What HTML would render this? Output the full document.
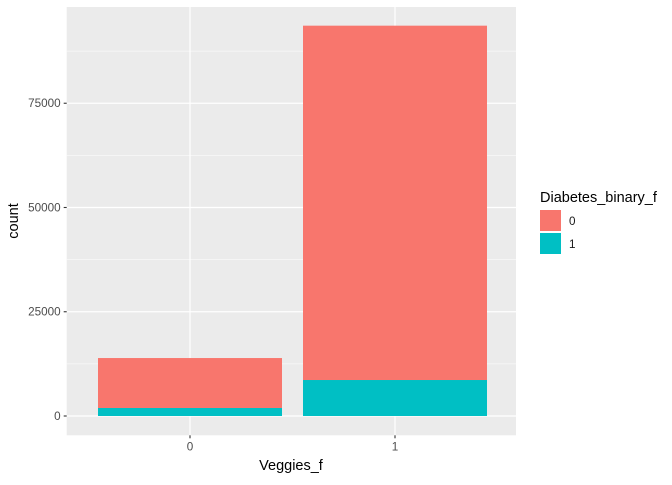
<!DOCTYPE html>
<html><head><meta charset="utf-8"><style>
body{margin:0;background:#fff;font-family:"Liberation Sans",Arial,sans-serif}
</style></head><body>
<svg width="672" height="480" id="c">
<rect x="66.7" y="7" width="449.3" height="428.3" fill="#EBEBEB"/>
<g id="grid"></g><g id="bars"></g><g id="axes"></g>
<text x="291" y="470" font-size="14.5" text-anchor="middle" fill="#000">Veggies_f</text>
<text transform="translate(18,221) rotate(-90)" font-size="14.5" text-anchor="middle" fill="#000">count</text>
<g>
<text x="540" y="202" font-size="14.5" fill="#000">Diabetes_binary_f</text>
<rect x="540" y="210" width="21" height="21" fill="#F8766D"/>
<text x="569" y="225" font-size="11.7" fill="#1a1a1a">0</text>
<rect x="540" y="233" width="21" height="21" fill="#00BFC4"/>
<text x="569" y="248" font-size="11.7" fill="#1a1a1a">1</text>
</g>
</svg>
<script>
const categories=["0","1"];
const series0=[11980,84970];
const series1=[1920,8630];
const yTicks=[0,25000,50000,75000];
const NS="http://www.w3.org/2000/svg";
const yS=v=>416-v/239.8;
const xS=i=>190+i*205;
const BW=184, PT=7, PB=435.3, PL=66.7, PR=516;
function mk(t,a,p){const e=document.createElementNS(NS,t);for(const k in a)e.setAttribute(k,a[k]);p.appendChild(e);return e;}
const gG=document.getElementById('grid'),gB=document.getElementById('bars'),gA=document.getElementById('axes');
const minors=[];
yTicks.forEach((v,i)=>{ if(i<yTicks.length-1) minors.push((v+yTicks[i+1])/2); });
minors.push(yTicks[yTicks.length-1]+12500);
minors.forEach(m=>{
 const l=mk('line',{x1:PL,x2:PR,y1:yS(m),y2:yS(m),stroke:'#fff','stroke-width':0.6},gG);
 
 
});
yTicks.forEach(v=>{
 const l=mk('line',{x1:PL,x2:PR,y1:yS(v),y2:yS(v),stroke:'#fff','stroke-width':1.2},gG);
 
 
 const t=mk('line',{x1:PL-3,x2:PL,y1:yS(v),y2:yS(v),stroke:'#333','stroke-width':1.1},gA);
 
 
 const tx=mk('text',{x:PL-6,y:yS(v)+4,'font-size':11.7,'text-anchor':'end',fill:'#4d4d4d'},gA);
 tx.textContent=v;
 
 
});
categories.forEach((c,i)=>{
 const l=mk('line',{x1:xS(i),x2:xS(i),y1:PT,y2:PB,stroke:'#fff','stroke-width':1.2},gG);
 
 
 const r1=mk('rect',{x:xS(i)-BW/2,width:BW,y:yS(series1[i]),height:yS(0)-yS(series1[i]),fill:'#00BFC4'},gB);
 
 
 const tot=series0[i]+series1[i];
 const r0=mk('rect',{x:xS(i)-BW/2,width:BW,y:yS(tot),height:yS(series1[i])-yS(tot),fill:'#F8766D'},gB);
 
 
 const t=mk('line',{x1:xS(i),x2:xS(i),y1:PB,y2:PB+3,stroke:'#333','stroke-width':1.1},gA);
 
 
 const tx=mk('text',{x:xS(i),y:PB+15,'font-size':11.7,'text-anchor':'middle',fill:'#4d4d4d'},gA);
 tx.textContent=c;
 
 
});
</script>
</body></html>
